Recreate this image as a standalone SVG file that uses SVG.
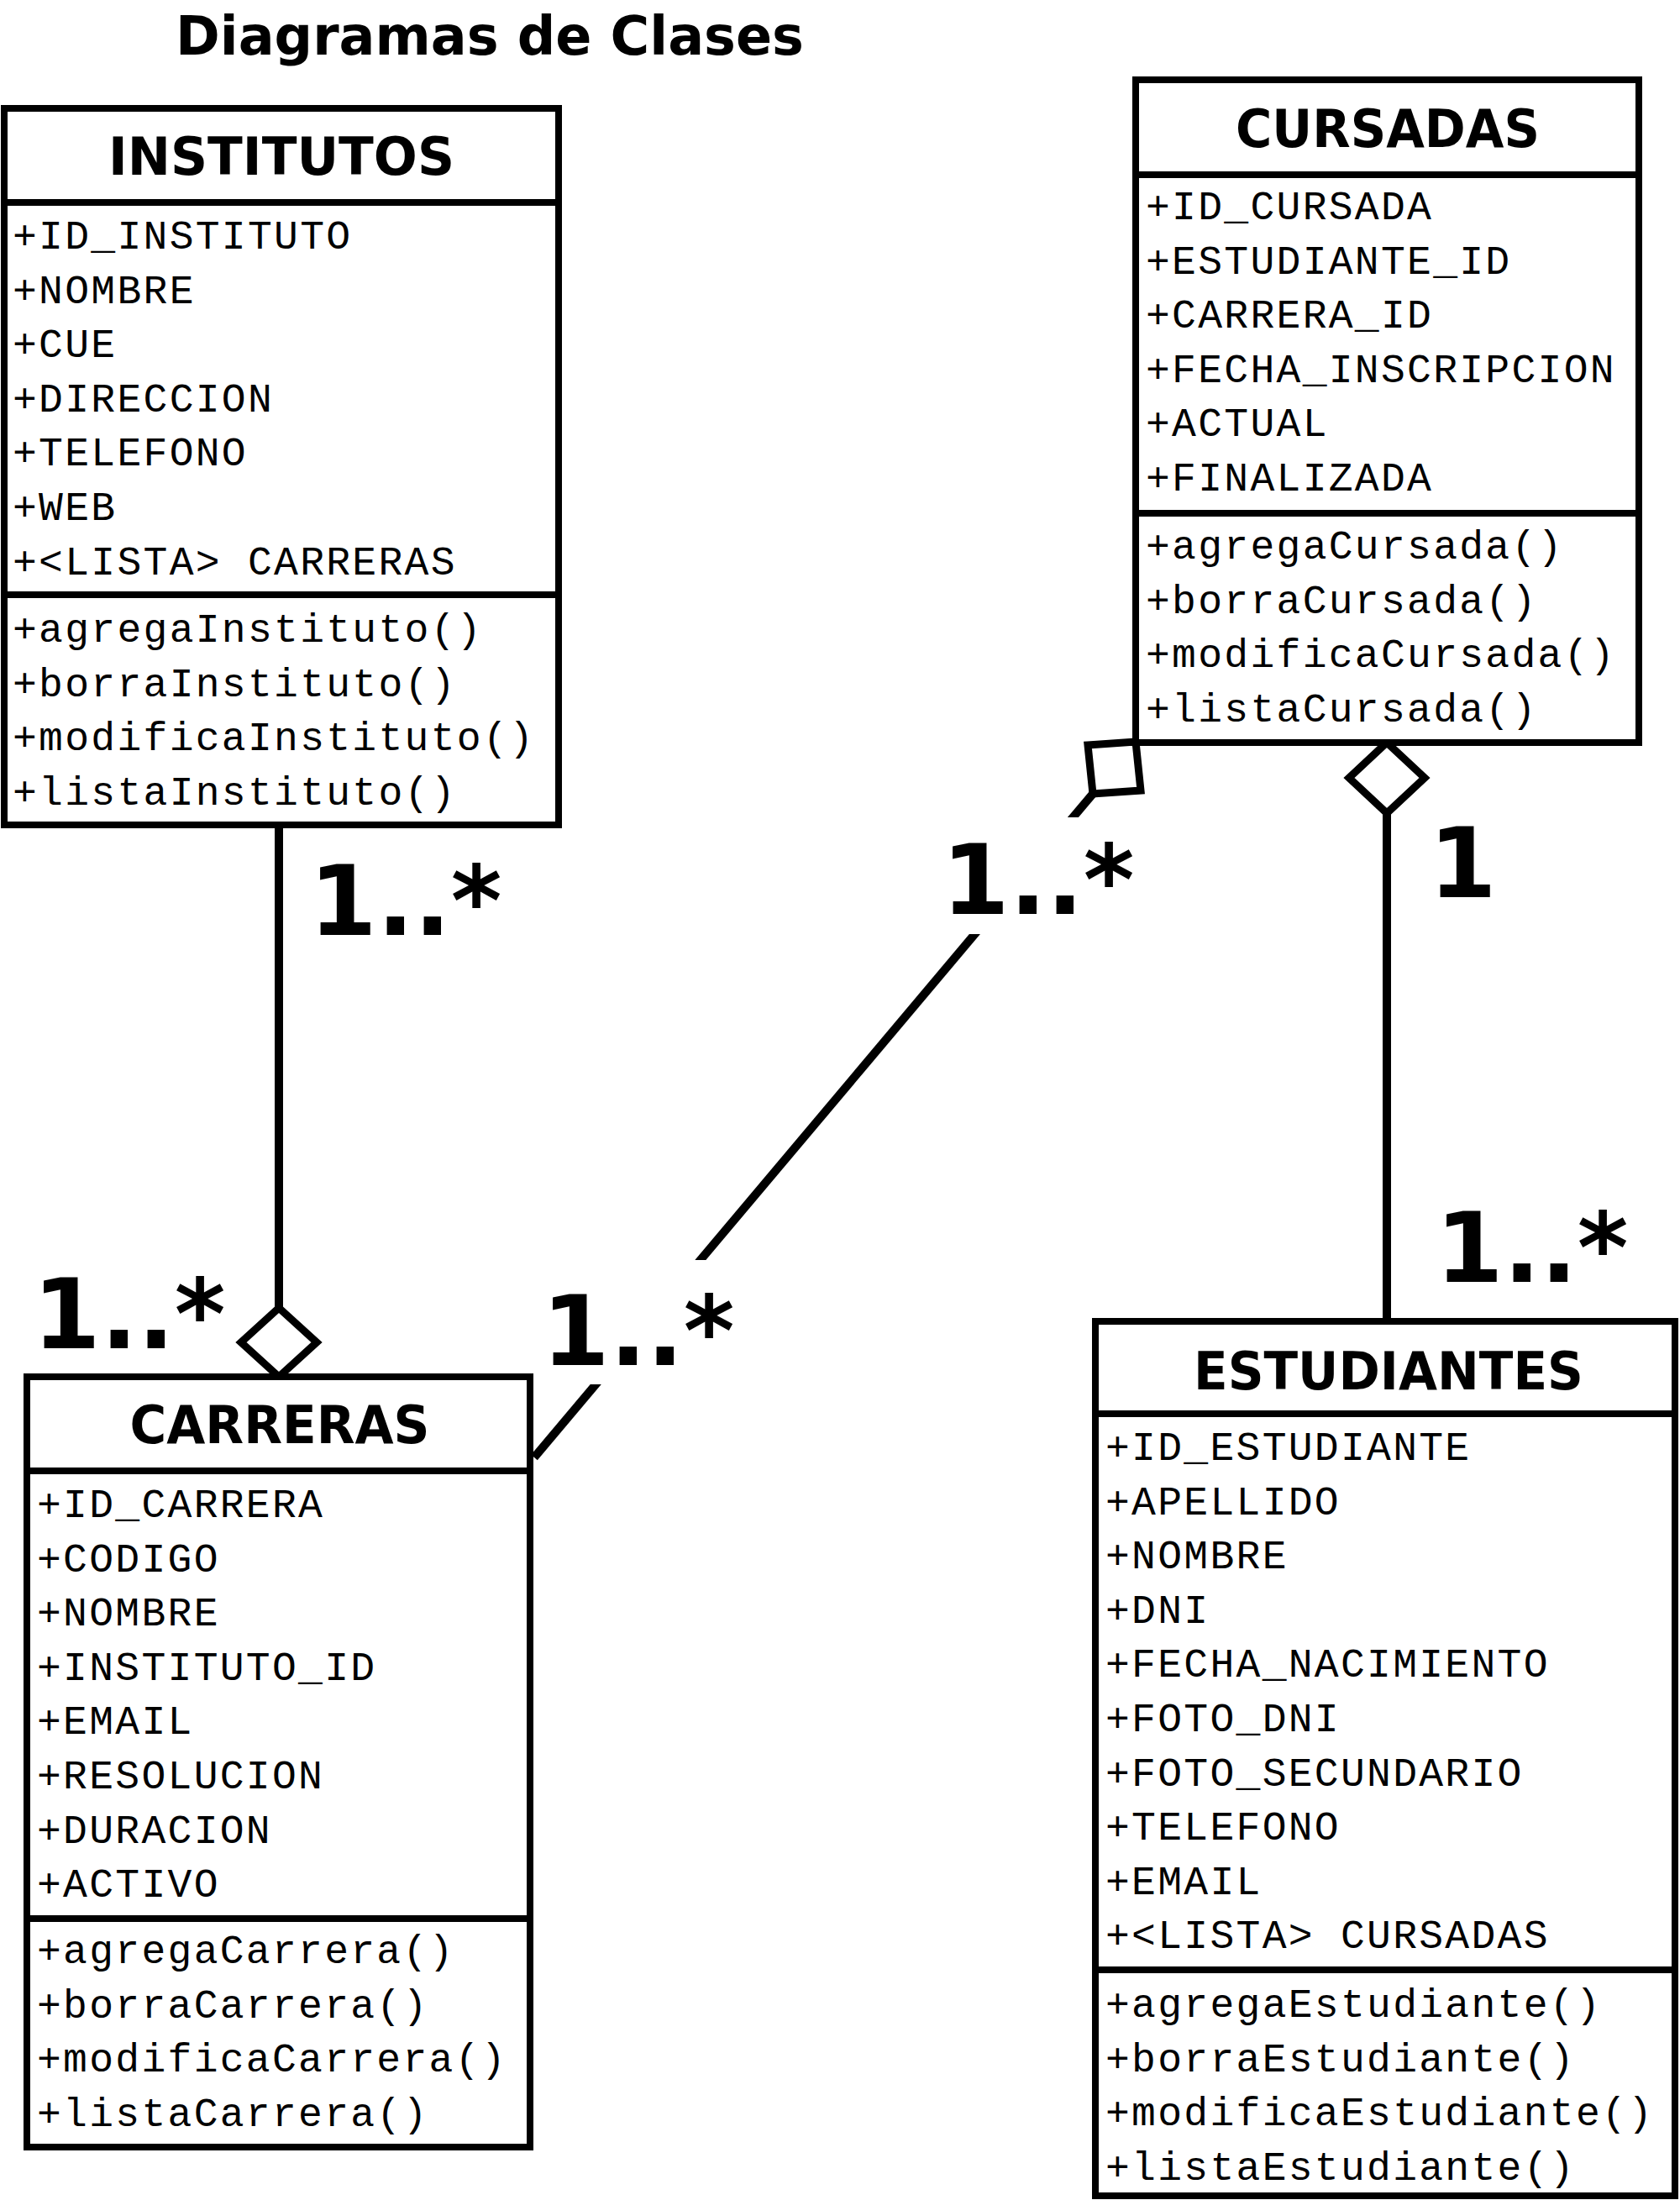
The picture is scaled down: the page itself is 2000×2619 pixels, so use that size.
<svg xmlns="http://www.w3.org/2000/svg" width="2000" height="2619" viewBox="0 0 2000 2619">
<style>
.box{fill:#fff;stroke:#000;stroke-width:8}
.sep{stroke:#000;stroke-width:8}
.title{font-family:"DejaVu Sans",Verdana,sans-serif;font-weight:bold;font-size:64px;fill:#000}
.hdr{font-family:"DejaVu Sans",Verdana,sans-serif;font-weight:bold;font-size:63px;fill:#000;text-anchor:middle}
.mono{font-family:"Liberation Mono","Courier New",monospace;font-size:48px;letter-spacing:2.3px;fill:#000}
.mult{font-family:"DejaVu Sans",Verdana,sans-serif;font-weight:bold;font-size:116px;fill:#000}
.conn{stroke:#000;stroke-width:10;fill:none}
.dia{fill:#fff;stroke:#000;stroke-width:9;stroke-linejoin:miter}
</style>
<rect width="2000" height="2619" fill="#fff"/>
<text class="title" x="209" y="65" textLength="748" lengthAdjust="spacingAndGlyphs">Diagramas de Clases</text>

<g id="connectors">
  <line class="conn" x1="332" y1="982" x2="332" y2="1560"/>
  <polygon class="dia" points="332,1557 377,1598 332,1639 287,1598"/>
  <line class="conn" x1="1651" y1="965" x2="1651" y2="1573"/>
  <polygon class="dia" points="1651,884 1696,926 1651,968 1606,926"/>
  <line class="conn" x1="636" y1="1735" x2="1301" y2="945"/>
  <polygon class="dia" stroke-width="10" points="1295,887 1352,883 1358,941 1301,945"/>
  <rect x="1120" y="973" width="245" height="139" fill="#fff"/>
  <rect x="645" y="1500" width="240" height="148" fill="#fff"/>
  <text class="mult" x="368" y="1113">1..*</text>
  <text class="mult" x="39" y="1605">1..*</text>
  <text class="mult" x="645" y="1625">1..*</text>
  <text class="mult" x="1121" y="1088">1..*</text>
  <text class="mult" x="1701" y="1068">1</text>
  <text class="mult" x="1709" y="1526">1..*</text>
</g>

<g id="institutos">
  <rect class="box" x="5" y="129" width="660" height="853"/>
  <line class="sep" x1="5" y1="241" x2="665" y2="241"/>
  <line class="sep" x1="5" y1="708" x2="665" y2="708"/>
  <text class="hdr" x="335" y="208" textLength="412" lengthAdjust="spacingAndGlyphs">INSTITUTOS</text>
  <text class="mono" x="15" y="296">+ID_INSTITUTO<tspan x="15" dy="64.6">+NOMBRE</tspan><tspan x="15" dy="64.6">+CUE</tspan><tspan x="15" dy="64.6">+DIRECCION</tspan><tspan x="15" dy="64.6">+TELEFONO</tspan><tspan x="15" dy="64.6">+WEB</tspan><tspan x="15" dy="64.6">+&lt;LISTA&gt; CARRERAS</tspan></text>
  <text class="mono" x="15" y="764">+agregaInstituto()<tspan x="15" dy="64.6">+borraInstituto()</tspan><tspan x="15" dy="64.6">+modificaInstituto()</tspan><tspan x="15" dy="64.6">+listaInstituto()</tspan></text>
</g>

<g id="cursadas">
  <rect class="box" x="1352" y="95" width="599" height="789"/>
  <line class="sep" x1="1352" y1="208" x2="1951" y2="208"/>
  <line class="sep" x1="1352" y1="611" x2="1951" y2="611"/>
  <text class="hdr" x="1652" y="175" textLength="362" lengthAdjust="spacingAndGlyphs">CURSADAS</text>
  <text class="mono" x="1364" y="261">+ID_CURSADA<tspan x="1364" dy="64.6">+ESTUDIANTE_ID</tspan><tspan x="1364" dy="64.6">+CARRERA_ID</tspan><tspan x="1364" dy="64.6">+FECHA_INSCRIPCION</tspan><tspan x="1364" dy="64.6">+ACTUAL</tspan><tspan x="1364" dy="64.6">+FINALIZADA</tspan></text>
  <text class="mono" x="1364" y="665">+agregaCursada()<tspan x="1364" dy="64.6">+borraCursada()</tspan><tspan x="1364" dy="64.6">+modificaCursada()</tspan><tspan x="1364" dy="64.6">+listaCursada()</tspan></text>
</g>

<g id="carreras">
  <rect class="box" x="32" y="1639" width="599" height="917"/>
  <line class="sep" x1="32" y1="1751" x2="631" y2="1751"/>
  <line class="sep" x1="32" y1="2284" x2="631" y2="2284"/>
  <text class="hdr" x="333" y="1718" textLength="357" lengthAdjust="spacingAndGlyphs">CARRERAS</text>
  <text class="mono" x="44" y="1806">+ID_CARRERA<tspan x="44" dy="64.6">+CODIGO</tspan><tspan x="44" dy="64.6">+NOMBRE</tspan><tspan x="44" dy="64.6">+INSTITUTO_ID</tspan><tspan x="44" dy="64.6">+EMAIL</tspan><tspan x="44" dy="64.6">+RESOLUCION</tspan><tspan x="44" dy="64.6">+DURACION</tspan><tspan x="44" dy="64.6">+ACTIVO</tspan></text>
  <text class="mono" x="44" y="2337">+agregaCarrera()<tspan x="44" dy="64.6">+borraCarrera()</tspan><tspan x="44" dy="64.6">+modificaCarrera()</tspan><tspan x="44" dy="64.6">+listaCarrera()</tspan></text>
</g>

<g id="estudiantes">
  <rect class="box" x="1304" y="1573" width="690" height="1041"/>
  <line class="sep" x1="1304" y1="1683" x2="1994" y2="1683"/>
  <line class="sep" x1="1304" y1="2345" x2="1994" y2="2345"/>
  <text class="hdr" x="1653" y="1654" textLength="464" lengthAdjust="spacingAndGlyphs">ESTUDIANTES</text>
  <text class="mono" x="1316" y="1738">+ID_ESTUDIANTE<tspan x="1316" dy="64.6">+APELLIDO</tspan><tspan x="1316" dy="64.6">+NOMBRE</tspan><tspan x="1316" dy="64.6">+DNI</tspan><tspan x="1316" dy="64.6">+FECHA_NACIMIENTO</tspan><tspan x="1316" dy="64.6">+FOTO_DNI</tspan><tspan x="1316" dy="64.6">+FOTO_SECUNDARIO</tspan><tspan x="1316" dy="64.6">+TELEFONO</tspan><tspan x="1316" dy="64.6">+EMAIL</tspan><tspan x="1316" dy="64.6">+&lt;LISTA&gt; CURSADAS</tspan></text>
  <text class="mono" x="1316" y="2401">+agregaEstudiante()<tspan x="1316" dy="64.6">+borraEstudiante()</tspan><tspan x="1316" dy="64.6">+modificaEstudiante()</tspan><tspan x="1316" dy="64.6">+listaEstudiante()</tspan></text>
</g>
</svg>
